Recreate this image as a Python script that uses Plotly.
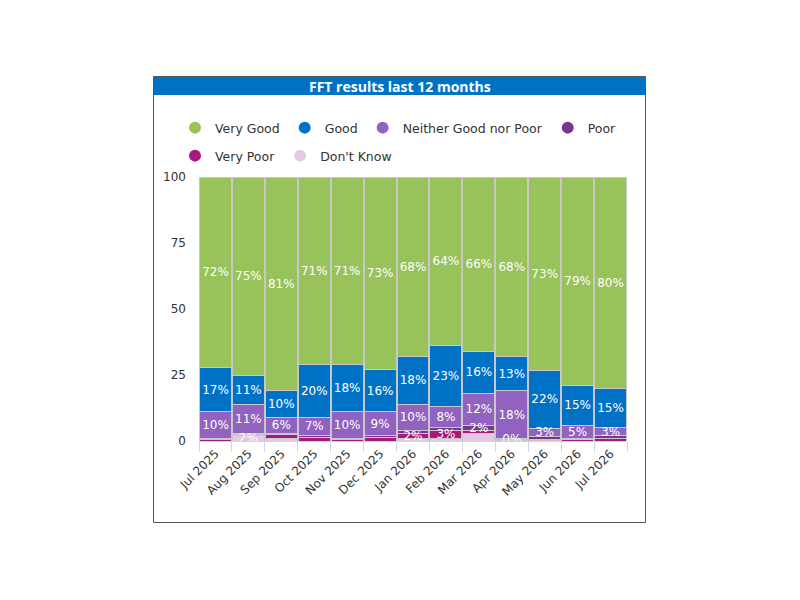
import plotly.graph_objects as go

months = ["Jul 2025", "Aug 2025", "Sep 2025", "Oct 2025", "Nov 2025", "Dec 2025",
          "Jan 2026", "Feb 2026", "Mar 2026", "Apr 2026", "May 2026", "Jun 2026", "Jul 2026"]

very_good = [72, 75, 81, 71, 71, 73, 68, 64, 66, 68, 73, 79, 80]
good      = [17, 11, 10, 20, 18, 16, 18, 23, 16, 13, 22, 15, 15]
neither   = [10, 11, 6, 7, 10, 9, 10, 8, 12, 18, 3, 5, 3]
poor      = [0.5, 0.5, 0.5, 0.5, 0.5, 0.5, 1.0, 1.0, 2.0, 0.4, 1.2, 0.5, 1.0]
very_poor = [0.5, 0.5, 1.5, 1.5, 0.5, 1.5, 2.0, 3.0, 1.0, 0.3, 0.5, 0.5, 1.0]
dont_know = [0.0, 2.0, 1.0, 0.0, 0.0, 0.0, 1.0, 1.0, 3.0, 0.3, 0.1, 0.0, 0.0]

label_min = 2
forced_labels = [("Poor", "Apr 2026")]
hidden_labels = [("Don't Know", "Mar 2026")]

series = [
    ("Very Good", very_good, "#97c35a"),
    ("Good", good, "#0072c6"),
    ("Neither Good nor Poor", neither, "#9162c0"),
    ("Poor", poor, "#7d3490"),
    ("Very Poor", very_poor, "#a8197c"),
    ("Don't Know", dont_know, "#e3c9e4"),
]

fig = go.Figure()
# filled bars, stacked bottom-most first
for name, vals, color in reversed(series):
    fig.add_trace(go.Bar(
        x=months, y=vals, name=name, marker=dict(color=color, line=dict(color="#c8c8c8", width=1)),
        showlegend=False, hoverinfo="skip",
    ))
# transparent copies on an overlaid axis pair carry the data labels above all fills
for name, vals, color in reversed(series):
    texts = []
    for m, v in zip(months, vals):
        show = (v >= label_min and (name, m) not in hidden_labels) or (name, m) in forced_labels
        texts.append(f"{round(v)}%" if show else "")
    fig.add_trace(go.Bar(
        x=months, y=vals, marker=dict(color="rgba(0,0,0,0)", line=dict(width=0)),
        text=texts, textposition="inside", insidetextanchor="middle", textangle=0,
        textfont=dict(color="white", size=12, family="DejaVu Sans"),
        showlegend=False, hoverinfo="skip", cliponaxis=False, xaxis="x2", yaxis="y2",
    ))

# legend entries with circle markers (two rows)
for i, (name, vals, color) in enumerate(series):
    fig.add_trace(go.Scatter(
        x=[None], y=[None], mode="markers", name=name,
        marker=dict(color=color, size=13, symbol="circle"), showlegend=True,
        legend="legend" if i < 4 else "legend2",
    ))

OFF = 8  # page body margin
SL, SR, ST, SB = 199, 627, 177, 441
L = SL - OFF
T = ST - OFF
R = 800 - (SR - OFF)
B = 600 - (SB - OFF)
pw, ph = SR - SL, SB - ST
def px(xs): return (xs - SL) / pw
def py(ys): return (SB - ys) / ph

shapes = [
    dict(type="rect", xref="paper", yref="paper", x0=px(153.5), x1=px(645.5), y0=py(522.5), y1=py(76.5),
         line=dict(color="#555555", width=1), fillcolor="rgba(0,0,0,0)", layer="below"),
    dict(type="rect", xref="paper", yref="paper", x0=px(154), x1=px(645), y0=py(95), y1=py(77),
         line=dict(width=0), fillcolor="#0072c6", layer="below"),
]

legend_common = dict(orientation="h", xanchor="left", yanchor="middle", traceorder="normal",
                     font=dict(size=12.5, family="DejaVu Sans", color="#333333"),
                     itemsizing="constant", bgcolor="rgba(0,0,0,0)")

fig.update_layout(
    width=800, height=600,
    margin=dict(l=L, r=R, t=T, b=B),
    paper_bgcolor="white", plot_bgcolor="white",
    barmode="stack", bargap=0.03,
    uniformtext=dict(mode="show", minsize=12),
    shapes=shapes,
    annotations=[dict(text="<b>FFT results last 12 months</b>", xref="paper", yref="paper",
                      x=px(400), y=py(86), showarrow=False, xanchor="center", yanchor="middle",
                      font=dict(color="white", size=14, family="Open Sans"))],
    legend=dict(x=px(175), y=py(128), **legend_common),
    legend2=dict(x=px(175), y=py(156), **legend_common),
    font=dict(family="DejaVu Sans", color="#333333"),
    showlegend=True,
    yaxis=dict(range=[0, 100], tickvals=[0, 25, 50, 75, 100], showgrid=False, zeroline=False,
               showline=False, tickfont=dict(size=12, color="#333333"), ticks="", ticklabelstandoff=12),
    xaxis=dict(tickangle=-45, showgrid=False, showline=True, linecolor="#ccd6eb",
               ticks="outside", tickson="boundaries", ticklen=10, tickcolor="#ccd6eb",
               tickfont=dict(size=12, color="#333333"), range=[-0.5, 12.5]),
    xaxis2=dict(overlaying="x", matches="x", visible=False, range=[-0.5, 12.5]),
    yaxis2=dict(overlaying="y", matches="y", visible=False, range=[0, 100]),
)

fig.write_html("out.html")
